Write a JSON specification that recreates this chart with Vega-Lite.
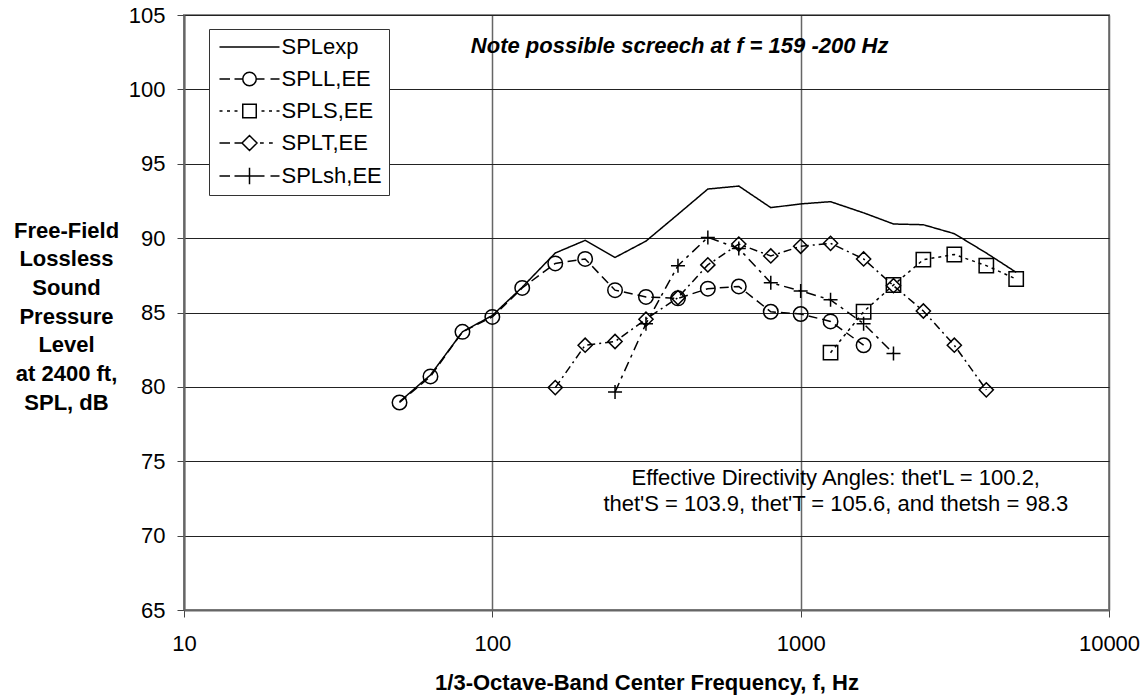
{
  "$schema": "https://vega.github.io/schema/vega-lite/v6.json",
  "width": 925,
  "height": 595,
  "autosize": "none",
  "padding": {"left": 184, "top": 15, "right": 37, "bottom": 88},
  "background": "white",
  "config": {
    "view": {"stroke": "#888888", "strokeWidth": 2},
    "font": "Liberation Sans",
    "axis": {"labelFont": "Liberation Sans", "titleFont": "Liberation Sans", "labelFontSize": 22, "titleFontSize": 22, "labelColor": "black", "titleColor": "black", "titleFontWeight": "bold", "domainColor": "#666666", "domainWidth": 2, "tickColor": "#444444", "tickSize": 7, "tickWidth": 1}
  },
  "data": {"values": [
    {"f": 50, "spl": 79.0, "series": "SPLexp"},
    {"f": 63, "spl": 80.8, "series": "SPLexp"},
    {"f": 80, "spl": 83.7, "series": "SPLexp"},
    {"f": 100, "spl": 84.8, "series": "SPLexp"},
    {"f": 125, "spl": 86.7, "series": "SPLexp"},
    {"f": 160, "spl": 89.0, "series": "SPLexp"},
    {"f": 200, "spl": 89.85, "series": "SPLexp"},
    {"f": 250, "spl": 88.7, "series": "SPLexp"},
    {"f": 315, "spl": 89.8, "series": "SPLexp"},
    {"f": 400, "spl": 91.6, "series": "SPLexp"},
    {"f": 500, "spl": 93.3, "series": "SPLexp"},
    {"f": 630, "spl": 93.5, "series": "SPLexp"},
    {"f": 800, "spl": 92.05, "series": "SPLexp"},
    {"f": 1000, "spl": 92.3, "series": "SPLexp"},
    {"f": 1250, "spl": 92.45, "series": "SPLexp"},
    {"f": 1600, "spl": 91.7, "series": "SPLexp"},
    {"f": 2000, "spl": 90.95, "series": "SPLexp"},
    {"f": 2500, "spl": 90.9, "series": "SPLexp"},
    {"f": 3150, "spl": 90.3, "series": "SPLexp"},
    {"f": 4000, "spl": 89.0, "series": "SPLexp"},
    {"f": 5000, "spl": 87.7, "series": "SPLexp"},
    {"f": 50, "spl": 78.95, "series": "SPLL,EE"},
    {"f": 63, "spl": 80.7, "series": "SPLL,EE"},
    {"f": 80, "spl": 83.7, "series": "SPLL,EE"},
    {"f": 100, "spl": 84.7, "series": "SPLL,EE"},
    {"f": 125, "spl": 86.65, "series": "SPLL,EE"},
    {"f": 160, "spl": 88.3, "series": "SPLL,EE"},
    {"f": 200, "spl": 88.6, "series": "SPLL,EE"},
    {"f": 250, "spl": 86.5, "series": "SPLL,EE"},
    {"f": 315, "spl": 86.05, "series": "SPLL,EE"},
    {"f": 400, "spl": 85.95, "series": "SPLL,EE"},
    {"f": 500, "spl": 86.6, "series": "SPLL,EE"},
    {"f": 630, "spl": 86.75, "series": "SPLL,EE"},
    {"f": 800, "spl": 85.05, "series": "SPLL,EE"},
    {"f": 1000, "spl": 84.9, "series": "SPLL,EE"},
    {"f": 1250, "spl": 84.4, "series": "SPLL,EE"},
    {"f": 1600, "spl": 82.8, "series": "SPLL,EE"},
    {"f": 1250, "spl": 82.3, "series": "SPLS,EE"},
    {"f": 1600, "spl": 85.05, "series": "SPLS,EE"},
    {"f": 2000, "spl": 86.85, "series": "SPLS,EE"},
    {"f": 2500, "spl": 88.55, "series": "SPLS,EE"},
    {"f": 3150, "spl": 88.9, "series": "SPLS,EE"},
    {"f": 4000, "spl": 88.15, "series": "SPLS,EE"},
    {"f": 5000, "spl": 87.25, "series": "SPLS,EE"},
    {"f": 160, "spl": 79.95, "series": "SPLT,EE"},
    {"f": 200, "spl": 82.8, "series": "SPLT,EE"},
    {"f": 250, "spl": 83.05, "series": "SPLT,EE"},
    {"f": 315, "spl": 84.55, "series": "SPLT,EE"},
    {"f": 400, "spl": 86.0, "series": "SPLT,EE"},
    {"f": 500, "spl": 88.2, "series": "SPLT,EE"},
    {"f": 630, "spl": 89.6, "series": "SPLT,EE"},
    {"f": 800, "spl": 88.8, "series": "SPLT,EE"},
    {"f": 1000, "spl": 89.45, "series": "SPLT,EE"},
    {"f": 1250, "spl": 89.65, "series": "SPLT,EE"},
    {"f": 1600, "spl": 88.6, "series": "SPLT,EE"},
    {"f": 2000, "spl": 86.8, "series": "SPLT,EE"},
    {"f": 2500, "spl": 85.1, "series": "SPLT,EE"},
    {"f": 3150, "spl": 82.8, "series": "SPLT,EE"},
    {"f": 4000, "spl": 79.8, "series": "SPLT,EE"},
    {"f": 250, "spl": 79.65, "series": "SPLsh,EE"},
    {"f": 315, "spl": 84.25, "series": "SPLsh,EE"},
    {"f": 400, "spl": 88.15, "series": "SPLsh,EE"},
    {"f": 500, "spl": 90.05, "series": "SPLsh,EE"},
    {"f": 630, "spl": 89.3, "series": "SPLsh,EE"},
    {"f": 800, "spl": 87.0, "series": "SPLsh,EE"},
    {"f": 1000, "spl": 86.45, "series": "SPLsh,EE"},
    {"f": 1250, "spl": 85.85, "series": "SPLsh,EE"},
    {"f": 1600, "spl": 84.25, "series": "SPLsh,EE"},
    {"f": 2000, "spl": 82.25, "series": "SPLsh,EE"}
  ]},
  "encoding": {
    "x": {"field": "f", "type": "quantitative",
      "scale": {"type": "log", "domain": [10, 10000], "nice": false},
      "axis": {"values": [10, 100, 1000, 10000], "format": "d", "grid": true, "gridColor": "#666666", "gridWidth": 1.5, "labelPadding": 16, "labelFlush": false,
        "title": "1/3-Octave-Band Center Frequency, f, Hz", "titleBaseline": "alphabetic", "titleY": 79}},
    "y": {"field": "spl", "type": "quantitative",
      "scale": {"domain": [65, 105], "nice": false, "zero": false},
      "axis": {"values": [65, 70, 75, 80, 85, 90, 95, 100, 105], "grid": true, "gridColor": "#222222", "gridWidth": 1, "labelPadding": 12, "labelFlush": false,
        "title": ["Free-Field", "Lossless", "Sound", "Pressure", "Level", "at 2400 ft,", "SPL, dB"],
        "titleAngle": 0, "titleAlign": "center", "titleBaseline": "alphabetic", "titleX": -118, "titleY": 222, "titleLineHeight": 28.7}}
  },
  "resolve": {"scale": {"shape": "independent"}, "legend": {"shape": "independent"}},
  "layer": [
    {
      "mark": {"type": "line", "color": "black", "strokeWidth": 1.5},
      "encoding": {
        "detail": {"field": "series"},
        "strokeDash": {"field": "series", "type": "nominal",
          "scale": {"domain": ["SPLexp", "SPLL,EE", "SPLS,EE", "SPLT,EE", "SPLsh,EE"], "range": [[1, 0], [9, 5], [3, 4], [8, 4, 2, 4], [10, 5, 3, 5]]},
          "legend": null}
      }
    },
    {
      "transform": [{"filter": "datum.series !== 'SPLexp'"}],
      "mark": {"type": "point", "filled": false, "color": "black", "strokeWidth": 1.5, "opacity": 1},
      "encoding": {
        "shape": {"field": "series", "type": "nominal",
          "scale": {"domain": ["SPLL,EE", "SPLS,EE", "SPLT,EE", "SPLsh,EE"], "range": ["circle", "square", "diamond", "M-1,0H1M0,-1V1"]},
          "legend": null},
        "size": {"field": "series", "type": "nominal",
          "scale": {"domain": ["SPLL,EE", "SPLS,EE", "SPLT,EE", "SPLsh,EE"], "range": [210, 196, 225, 289]},
          "legend": null}
      }
    },
    {
      "mark": {"type": "point", "filled": false, "color": "black", "strokeWidth": 1.5, "opacity": 0},
      "encoding": {
        "shape": {"field": "series", "type": "nominal",
          "scale": {"domain": ["SPLexp", "SPLL,EE", "SPLS,EE", "SPLT,EE", "SPLsh,EE"],
            "range": [
              "M-4,0H4",
              "M-4,0H-2.6M-2,0H-0.9M0.9,0H2M2.8,0H4M-0.9,0A0.9,0.9 0 1,0 0.9,0A0.9,0.9 0 1,0 -0.9,0",
              "M-4,0H-3.6M-3,0H-2.6M-2,0H-1.6M1.6,0H2M2.6,0H3M3.6,0H4M-0.9,-0.9H0.9V0.9H-0.9Z",
              "M-4,0H-2.6M-2,0H-1M1.4,0H1.9M2.6,0H3.1M-1,0L0,-1L1,0L0,1Z",
              "M-4,0H-2.6M-2,0H2M2.8,0H4M0,-1.1V1.1"
            ]},
          "legend": {
            "title": null, "orient": "none", "legendX": 25, "legendY": 14,
            "labelFont": "Liberation Sans", "labelFontSize": 22, "labelColor": "black", "labelBaseline": "middle",
            "symbolSize": 225, "symbolOffset": 22.5, "labelOffset": 21, "rowPadding": 10,
            "symbolOpacity": 1, "symbolStrokeColor": "black", "symbolStrokeWidth": 1.5, "symbolFillColor": "transparent",
            "padding": 7, "strokeColor": "#333333", "fillColor": "white"
          }}
      }
    },
    {
      "data": {"values": [{"f": 405, "spl": 102.44, "label": "Note possible screech at f = 159 -200 Hz"}]},
      "mark": {"type": "text", "fontSize": 22, "fontWeight": "bold", "fontStyle": "italic", "font": "Liberation Sans", "align": "center", "baseline": "alphabetic", "color": "black"},
      "encoding": {"text": {"field": "label"}}
    },
    {
      "data": {"values": [{"f": 1300, "spl": 73.39, "label": ["Effective Directivity Angles: thet'L = 100.2,", "thet'S = 103.9, thet'T = 105.6, and thetsh = 98.3"]}]},
      "mark": {"type": "text", "fontSize": 22, "font": "Liberation Sans", "align": "center", "baseline": "alphabetic", "lineHeight": 25.7, "color": "black"},
      "encoding": {"text": {"field": "label"}}
    }
  ]
}
